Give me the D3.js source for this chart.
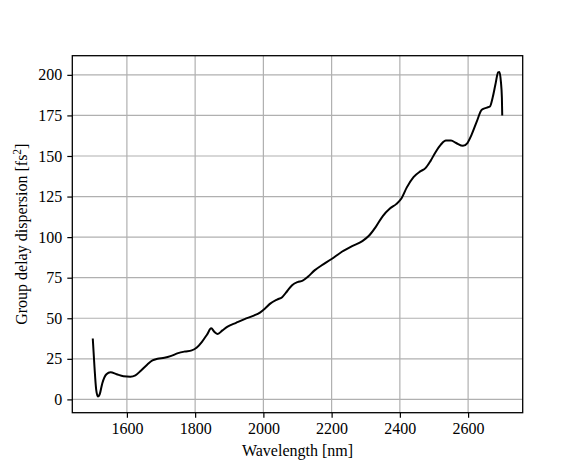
<!DOCTYPE html>
<html>
<head>
<meta charset="utf-8">
<script src="https://cdn.jsdelivr.net/npm/d3@7"></script>
<style>
  body { margin: 0; background: #fff; }
  svg text { font-family: "Liberation Serif", "Times New Roman", serif; fill: #000; }
</style>
</head>
<body>
<div id="chart"></div>
<script>
// wavelength samples [nm] and group delay dispersion [fs^2]
const wavelength = [1500, 1505, 1510, 1515, 1520, 1528, 1540, 1552, 1570, 1590, 1610, 1625, 1640, 1660, 1675,
    1690, 1710, 1730, 1750, 1770, 1790, 1805, 1820, 1835, 1847, 1857, 1866, 1880, 1895, 1920,
    1945, 1970, 1990, 2005, 2020, 2040, 2055, 2070, 2085, 2100, 2115, 2130, 2150, 2170, 2200,
    2230, 2260, 2290, 2310, 2330, 2350, 2370, 2390, 2405, 2420, 2440, 2460, 2475, 2490, 2505,
    2520, 2535, 2550, 2565, 2585, 2598, 2610, 2625, 2640, 2655, 2664, 2672, 2680, 2688, 2692,
    2696, 2699, 2700];
const gdd = [37.5, 20, 6, 1.8, 3, 10, 15.5, 16.7, 15.5, 14.3, 14, 14.8, 17.5, 21.5, 24,
    25, 25.6, 26.8, 28.5, 29.5, 30.2, 32, 35.5, 40, 43.8, 41.5, 40.3, 42.5, 44.8, 47.2,
    49.5, 51.5, 53.5, 56, 59, 61.5, 63, 66.8, 70.5, 72.3, 73.2, 75.5, 79.5, 82.5, 86.5,
    91, 94.5, 97.5, 101, 106.5, 113, 117.5, 120.5, 124, 130.5, 137, 140.5, 142.5, 147, 152.5,
    157, 159.5, 159.5, 158, 156.3, 158, 163, 171, 178.5, 179.8, 180.5, 186, 194, 201.5, 201.8,
    196, 186, 175];
const xTicks = [1600, 1800, 2000, 2200, 2400, 2600];
const yTicks = [0, 25, 50, 75, 100, 125, 150, 175, 200];

const data = wavelength.map((w, i) => ({ w: w, v: gdd[i] }));

const width = 581, height = 465;
const margin = { top: 55.7, right: 58.3, bottom: 52.3, left: 72.3 };
const fontSize = '16px';

const svg = d3.select('#chart').append('svg')
    .attr('width', width)
    .attr('height', height);

// matplotlib-style 5% padding around the data
const xExt = d3.extent(wavelength), yExt = d3.extent(gdd);
const xPad = (xExt[1] - xExt[0]) * 0.05, yPad = (yExt[1] - yExt[0]) * 0.05;

const x = d3.scaleLinear()
    .domain([xExt[0] - xPad, xExt[1] + xPad])
    .range([margin.left, width - margin.right]);

const y = d3.scaleLinear()
    .domain([yExt[0] - yPad, yExt[1] + yPad])
    .range([height - margin.bottom, margin.top]);

// grid
svg.append('g')
    .selectAll('line')
    .data(xTicks)
    .enter()
    .append('line')
    .attr('x1', d => x(d)).attr('x2', d => x(d))
    .attr('y1', margin.top).attr('y2', height - margin.bottom)
    .attr('stroke', '#b0b0b0')
    .attr('stroke-width', 1.2);

svg.append('g')
    .selectAll('line')
    .data(yTicks)
    .enter()
    .append('line')
    .attr('x1', margin.left).attr('x2', width - margin.right)
    .attr('y1', d => y(d)).attr('y2', d => y(d))
    .attr('stroke', '#b0b0b0')
    .attr('stroke-width', 1.2);

// curve
svg.append('path')
    .datum(data)
    .attr('fill', 'none')
    .attr('stroke', '#000')
    .attr('stroke-width', 2)
    .attr('stroke-linejoin', 'round')
    .attr('d', d3.line()
        .x(d => x(d.w))
        .y(d => y(d.v))
        .curve(d3.curveMonotoneX));

// axes
const xAxis = svg.append('g')
    .attr('transform', `translate(0,${height - margin.bottom})`)
    .call(d3.axisBottom(x).tickValues(xTicks).tickSize(5).tickPadding(5).tickFormat(d3.format('d')));

const yAxis = svg.append('g')
    .attr('transform', `translate(${margin.left},0)`)
    .call(d3.axisLeft(y).tickValues(yTicks).tickSize(5).tickPadding(5));

[xAxis, yAxis].forEach(a => {
    a.select('.domain').remove();
    a.selectAll('line').attr('stroke', '#000').attr('stroke-width', 1.2);
    a.selectAll('text').style('font-size', fontSize).attr('fill', '#000');
});

// frame
svg.append('rect')
    .attr('x', margin.left)
    .attr('y', margin.top)
    .attr('width', width - margin.left - margin.right)
    .attr('height', height - margin.top - margin.bottom)
    .attr('fill', 'none')
    .attr('stroke', '#000')
    .attr('stroke-width', 1.3);

// labels
svg.append('text')
    .attr('x', (margin.left + width - margin.right) / 2)
    .attr('y', 456)
    .attr('text-anchor', 'middle')
    .style('font-size', fontSize)
    .text('Wavelength [nm]');

const yLabel = svg.append('text')
    .attr('transform', `translate(27,${(margin.top + height - margin.bottom) / 2}) rotate(-90)`)
    .attr('text-anchor', 'middle')
    .style('font-size', fontSize);
yLabel.append('tspan').text('Group delay dispersion [fs');
yLabel.append('tspan').text('2').style('font-size', '11.5px').attr('dy', -6);
yLabel.append('tspan').text(']').attr('dy', 6);
</script>
</body>
</html>
